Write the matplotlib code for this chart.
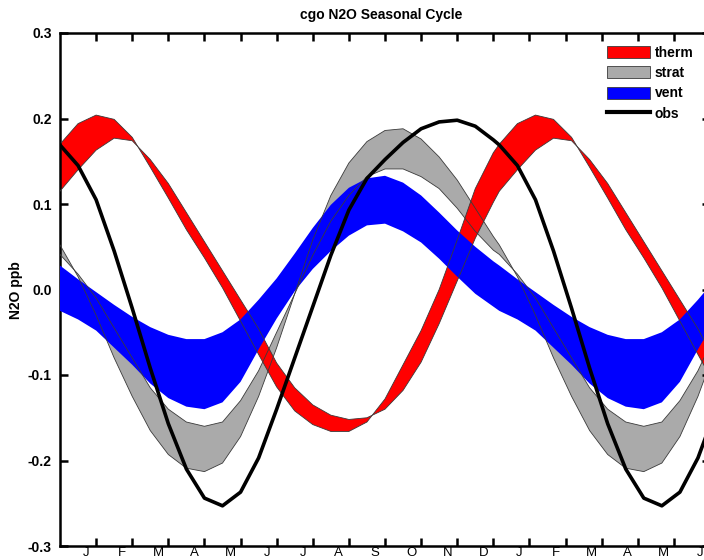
import numpy as np
import matplotlib
matplotlib.use('Agg')
import matplotlib.pyplot as plt
from matplotlib.patches import Patch
from matplotlib.lines import Line2D

plt.rcParams['font.family'] = ['Liberation Sans', 'DejaVu Sans']

# one seasonal cycle, read every 15 days (day 0 = left edge)
days = list(range(0, 365, 15))

therm_a = [0.170, 0.194, 0.204, 0.199, 0.178, 0.143, 0.107, 0.070, 0.037, 0.002,
           -0.037, -0.076, -0.114, -0.142, -0.158, -0.166, -0.166, -0.155, -0.128,
           -0.088, -0.048, 0.000, 0.058, 0.118, 0.160]
therm_b = [0.115, 0.140, 0.163, 0.177, 0.174, 0.152, 0.124, 0.090, 0.056, 0.022,
           -0.012, -0.046, -0.086, -0.115, -0.135, -0.147, -0.152, -0.150, -0.140,
           -0.118, -0.085, -0.040, 0.010, 0.060, 0.102]
strat_a = [0.052, 0.015, -0.030, -0.080, -0.125, -0.165, -0.193, -0.209, -0.213, -0.203,
           -0.172, -0.125, -0.068, -0.005, 0.058, 0.110, 0.148, 0.173, 0.186, 0.188,
           0.176, 0.155, 0.128, 0.095, 0.062]
strat_b = [0.041, 0.018, -0.010, -0.045, -0.080, -0.115, -0.140, -0.155, -0.160, -0.155,
           -0.130, -0.095, -0.050, -0.005, 0.040, 0.080, 0.110, 0.132, 0.141, 0.141,
           0.132, 0.118, 0.095, 0.068, 0.046]
vent_hi = [0.028, 0.012, -0.003, -0.018, -0.032, -0.044, -0.053, -0.058, -0.058, -0.050,
           -0.035, -0.012, 0.013, 0.042, 0.072, 0.099, 0.119, 0.130, 0.133, 0.125,
           0.110, 0.090, 0.069, 0.050, 0.033]
vent_lo = [-0.025, -0.035, -0.048, -0.068, -0.088, -0.110, -0.127, -0.137, -0.140, -0.132,
           -0.108, -0.070, -0.034, -0.002, 0.024, 0.045, 0.063, 0.075, 0.077, 0.068,
           0.055, 0.036, 0.015, -0.005, -0.020]
obs = [0.169, 0.145, 0.105, 0.045, -0.022, -0.092, -0.157, -0.210, -0.244, -0.253,
       -0.237, -0.197, -0.140, -0.080, -0.020, 0.040, 0.093, 0.130, 0.152, 0.172,
       0.188, 0.196, 0.198, 0.191, 0.175]

month_labels = ['J', 'F', 'M', 'A', 'M', 'J', 'J', 'A', 'S', 'O', 'N', 'D',
                'J', 'F', 'M', 'A', 'M', 'J']
tick_days = list(range(30, 541, 30))
y_ticks = [-0.3, -0.2, -0.1, 0.0, 0.1, 0.2, 0.3]

# the cycle is shown over a year and a half
x = np.concatenate([np.array(days), np.array(days) + 365])
def two_years(v):
    return np.concatenate([v, v])

fig = plt.figure(figsize=(7.04, 5.6), dpi=100)
ax = fig.add_axes([60 / 704, 14 / 560, 650 / 704, 513 / 560])

edge = '#3a3a3a'
ax.fill_between(x, two_years(strat_a), two_years(strat_b), color='#aaaaaa', lw=0, zorder=1)
ax.fill_between(x, two_years(therm_a), two_years(therm_b), color='#ff0000', lw=0, zorder=2)
ax.fill_between(x, two_years(vent_hi), two_years(vent_lo), color='#0000ff', lw=0, zorder=3)
for s in (strat_a, strat_b, therm_a, therm_b):
    ax.plot(x, two_years(s), color=edge, lw=0.6, zorder=4)
ax.plot(x, two_years(obs), color='black', lw=2.6, zorder=5)

ax.set_xlim(0, 540)
ax.set_ylim(-0.3, 0.3)

ax.set_xticks(tick_days)
ax.set_xticklabels([])
ax.set_xticks([d - 8.3 for d in tick_days], minor=True)
ax.set_xticklabels(month_labels, minor=True, fontsize=9.5)
ax.tick_params(axis='x', which='minor', length=0, pad=0.8, top=False)
ax.tick_params(axis='x', which='major', direction='in', length=6, width=1.8,
               top=True, bottom=True)

ax.set_yticks(y_ticks)
ax.set_yticklabels([f'{v:.1f}' for v in y_ticks], fontsize=10, fontweight='bold')
ax.tick_params(axis='y', direction='in', length=6, width=1.8, left=True, right=True, pad=6)

for sp in ax.spines.values():
    sp.set_linewidth(1.8)

fig.text(381 / 704, 1 - 15 / 560, 'cgo N2O Seasonal Cycle', ha='center', va='center',
         fontsize=10, fontweight='bold')
fig.text(16 / 704, 1 - 290 / 560, 'N2O ppb', ha='center', va='center', rotation=90,
         fontsize=10, fontweight='bold')

handles = [Patch(facecolor='#ff0000', edgecolor=edge, lw=0.6),
           Patch(facecolor='#aaaaaa', edgecolor=edge, lw=0.6),
           Patch(facecolor='#0000ff', edgecolor=edge, lw=0.6),
           Line2D([0], [0], color='black', lw=3)]
ax.legend(handles, ['therm', 'strat', 'vent', 'obs'], loc='upper left',
          bbox_to_anchor=(600 / 704, 1 - 39 / 560), bbox_transform=fig.transFigure,
          frameon=False, borderpad=0, handlelength=3.1, handleheight=0.95,
          labelspacing=0.45, handletextpad=0.35,
          prop={'weight': 'bold', 'size': 10})

fig.savefig('out.png', dpi=100)
